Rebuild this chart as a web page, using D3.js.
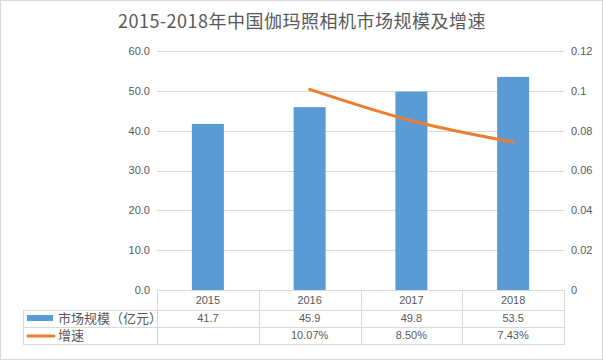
<!DOCTYPE html>
<html>
<head>
<meta charset="utf-8">
<script src="https://cdn.jsdelivr.net/npm/d3@7"></script>
<style>
  body { margin: 0; background: #fff; }
  text { font-family: "Liberation Sans", Arial, "Noto Sans CJK SC", sans-serif; fill: #595959; }
</style>
</head>
<body>
<div id="chart"></div>
<script>
    var years = ["2015", "2016", "2017", "2018"],
      marketSize = [41.7, 45.9, 49.8, 53.5],
      growth = [null, 0.1007, 0.0850, 0.0743],
      sizeLabels = ["41.7", "45.9", "49.8", "53.5"],
      growthLabels = ["", "10.07%", "8.50%", "7.43%"],
      leftTicks = [0, 10, 20, 30, 40, 50, 60],
      rightTicks = [0, 0.02, 0.04, 0.06, 0.08, 0.1, 0.12],
      seriesNames = ["市场规模（亿元）", "增速"],
      title = "2015-2018年中国伽玛照相机市场规模及增速";

    var width = 604, height = 362,
      plot = {left: 157, right: 564, top: 51, bottom: 290},
      rows = [290, 309.5, 326.5, 344],
      tableLeft = 23;

    var blue = "#5b9bd5", orange = "#ed7d31", grid = "#d9d9d9";

    var svg = d3.select("#chart").append("svg")
      .attr("width", width)
      .attr("height", height);

    // outer border
    svg.append("rect")
      .attr("x", 0.5).attr("y", 0.5)
      .attr("width", width - 2).attr("height", height - 3)
      .style("fill", "#fff")
      .style("stroke", grid);

    svg.append("text")
      .attr("x", width / 2)
      .attr("y", 28)
      .attr("text-anchor", "middle")
      .style("font-family", "\"Noto Sans CJK SC\", sans-serif")
      .style("font-size", "18px")
      .style("letter-spacing", "0.5px")
      .text(title);

    var x = d3.scaleBand()
      .domain(years)
      .range([plot.left, plot.right]);

    var y = d3.scaleLinear().domain([0, 60]).range([plot.bottom, plot.top]);
    var y2 = d3.scaleLinear().domain([0, 0.12]).range([plot.bottom, plot.top]);

    // gridlines
    svg.append("g").selectAll("line")
      .data(leftTicks.slice(1))
      .enter().append("line")
      .attr("x1", plot.left).attr("x2", plot.right)
      .attr("y1", function(d){ return Math.round(y(d)) + 0.5; })
      .attr("y2", function(d){ return Math.round(y(d)) + 0.5; })
      .style("stroke", grid);

    // left axis labels
    svg.append("g").selectAll("text")
      .data(leftTicks)
      .enter().append("text")
      .attr("x", 150)
      .attr("y", function(d){ return y(d); })
      .attr("dy", "0.35em")
      .attr("text-anchor", "end")
      .style("font-size", "11px")
      .text(function(d){ return d3.format(".1f")(d); });

    // right axis labels
    svg.append("g").selectAll("text")
      .data(rightTicks)
      .enter().append("text")
      .attr("x", 571)
      .attr("y", function(d){ return y2(d); })
      .attr("dy", "0.35em")
      .attr("text-anchor", "start")
      .style("font-size", "11px")
      .text(function(d){ return d === 0 ? "0" : String(+d.toFixed(2)); });

    // bars
    var barWidth = 32;
    svg.append("g").selectAll("rect")
      .data(marketSize)
      .enter().append("rect")
      .attr("x", function(d, i){ return x(years[i]) + x.bandwidth() / 2 - barWidth / 2; })
      .attr("y", function(d){ return y(d); })
      .attr("width", barWidth)
      .attr("height", function(d){ return y(0) - y(d); })
      .style("fill", blue);

    // growth line
    var line = d3.line()
      .defined(function(d){ return d !== null; })
      .curve(d3.curveCatmullRom.alpha(0.5))
      .x(function(d, i){ return x(years[i]) + x.bandwidth() / 2; })
      .y(function(d){ return y2(d); });

    svg.append("path")
      .datum(growth)
      .attr("d", line)
      .style("fill", "none")
      .style("stroke", orange)
      .style("stroke-width", 3)
      .style("stroke-linecap", "round");

    // data table
    var table = svg.append("g").style("stroke", grid).style("fill", "none");
    table.append("line").attr("x1", plot.left).attr("x2", plot.right)
      .attr("y1", rows[0] + 0.5).attr("y2", rows[0] + 0.5);
    rows.slice(1).forEach(function(r){
      table.append("line").attr("x1", tableLeft).attr("x2", plot.right)
        .attr("y1", Math.round(r) + 0.5).attr("y2", Math.round(r) + 0.5);
    });
    table.append("line").attr("x1", tableLeft + 0.5).attr("x2", tableLeft + 0.5)
      .attr("y1", Math.round(rows[1])).attr("y2", rows[3] + 1);
    x.domain().concat(["end"]).forEach(function(d, i){
      var xx = Math.round(plot.left + i * x.bandwidth()) + 0.5;
      table.append("line").attr("x1", xx).attr("x2", xx)
        .attr("y1", rows[0]).attr("y2", rows[3] + 1);
    });

    var cellRows = [years, sizeLabels, growthLabels];
    cellRows.forEach(function(vals, r){
      svg.append("g").selectAll("text")
        .data(vals)
        .enter().append("text")
        .attr("x", function(d, i){ return x(years[i]) + x.bandwidth() / 2; })
        .attr("y", (rows[r] + rows[r + 1]) / 2)
        .attr("dy", "0.35em")
        .attr("text-anchor", "middle")
        .style("font-size", "11px")
        .text(function(d){ return d; });
    });

    // legend keys inside the table
    svg.append("rect")
      .attr("x", 27).attr("y", 315)
      .attr("width", 26).attr("height", 6)
      .style("fill", blue);
    svg.append("line")
      .attr("x1", 28).attr("x2", 54)
      .attr("y1", 336).attr("y2", 336)
      .style("stroke", orange)
      .style("stroke-width", 3)
      .style("stroke-linecap", "round");

    svg.append("g").selectAll("text")
      .data(seriesNames)
      .enter().append("text")
      .attr("x", 58)
      .attr("y", function(d, i){ return (rows[i + 1] + rows[i + 2]) / 2; })
      .attr("dy", "0.35em")
      .style("font-family", "\"Noto Sans CJK SC\", sans-serif")
      .style("font-size", "13px")
      .text(function(d){ return d; });
</script>
</body>
</html>
